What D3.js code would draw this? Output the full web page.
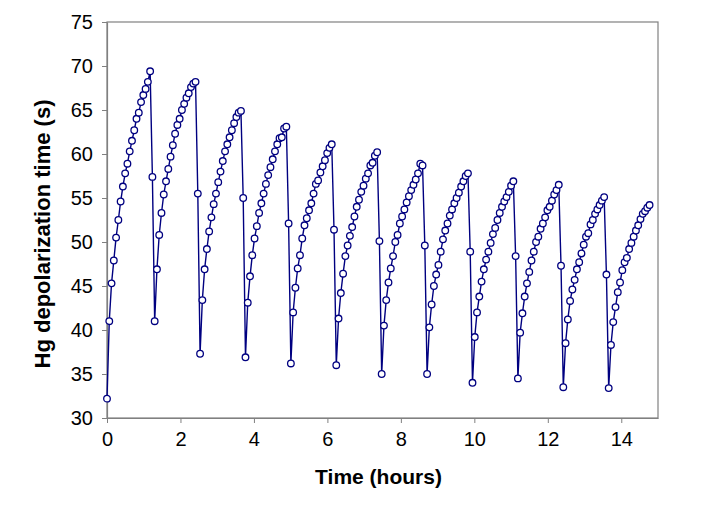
<!DOCTYPE html>
<html lang="en">
<head>
<meta charset="UTF-8">
<title>Hg depolarization time</title>
<script src="https://d3js.org/d3.v7.min.js"></script>
<style>
    body { margin: 0; background: white; font-family: "Liberation Sans", Arial, sans-serif; }
    .axis text { font-size: 20px; fill: black; font-family: "Liberation Sans", Arial, sans-serif; }
    .axis path, .axis line { stroke: #808080; }
    .title { font-weight: bold; fill: black; }
</style>
</head>
<body>
<div id="chart"></div>
<script>
    // sampling interval between measurements (hours)
    var sampleHours = 0.0618;

    // each run: drop point, minimum, then the climb up to the peak (first run starts at t=0)
    var run1  = [32.2, 41.0, 45.3, 47.9, 50.5, 52.5, 54.6, 56.3, 57.8, 58.9, 60.3, 61.5, 62.7, 64.0, 64.7, 65.9, 66.7, 67.4, 68.2, 69.4];
    var run2  = [57.4, 41.0, 46.9, 50.8, 53.3, 55.4, 56.9, 58.3, 59.7, 61.0, 62.3, 63.3, 64.0, 65.0, 65.7, 66.4, 66.9, 67.6, 68.0, 68.2];
    var run3  = [55.5, 37.3, 43.4, 46.9, 49.2, 51.2, 52.8, 54.3, 55.5, 56.8, 58.0, 59.2, 60.3, 61.1, 61.9, 62.7, 63.5, 64.2, 64.7, 64.9];
    var run4  = [55.0, 36.9, 43.1, 46.1, 48.5, 50.4, 51.8, 53.3, 54.4, 55.5, 56.6, 57.6, 58.5, 59.4, 60.3, 61.1, 61.8, 61.9, 62.9, 63.1];
    var run5  = [52.1, 36.2, 42.0, 44.8, 47.0, 48.5, 50.4, 51.9, 52.7, 53.6, 54.4, 55.5, 56.6, 57.0, 57.9, 58.6, 59.3, 60.1, 60.7, 61.1];
    var run6  = [51.4, 36.0, 41.3, 44.2, 46.4, 48.4, 49.6, 50.7, 51.7, 52.9, 54.0, 54.8, 55.7, 56.4, 57.2, 57.8, 58.7, 59.0, 59.8, 60.2];
    var run7  = [50.1, 35.0, 40.5, 43.4, 45.4, 47.0, 48.4, 50.0, 50.8, 52.1, 52.9, 53.7, 54.5, 55.2, 55.9, 56.5, 57.1, 57.8, 58.9, 58.7];
    var run8  = [49.6, 35.0, 40.3, 42.9, 45.0, 46.3, 47.4, 48.9, 50.3, 51.3, 52.1, 53.0, 53.7, 54.4, 55.0, 55.6, 56.3, 56.9, 57.5, 57.8];
    var run9  = [48.9, 34.0, 39.2, 42.0, 43.8, 45.5, 46.9, 48.0, 48.9, 49.9, 50.9, 51.6, 52.5, 53.3, 54.0, 54.6, 55.1, 55.7, 56.4, 56.9];
    var run10 = [48.4, 34.5, 39.7, 41.9, 43.8, 45.3, 46.6, 47.9, 48.9, 50.0, 50.6, 51.5, 52.1, 52.8, 53.6, 54.0, 54.7, 55.4, 55.9, 56.5];
    var run11 = [47.3, 33.5, 38.5, 41.2, 43.3, 44.6, 45.7, 46.9, 47.7, 48.7, 49.7, 50.6, 51.0, 52.0, 52.5, 53.2, 53.7, 54.2, 54.7, 55.1];
    var run12 = [46.3, 33.4, 38.3, 40.9, 42.6, 44.3, 45.4, 46.8, 47.7, 48.2, 49.2, 49.9, 50.6, 51.3, 51.9, 52.6, 53.2, 53.5, 53.9, 54.2];

    var runs = [run1, run2, run3, run4, run5, run6, run7, run8, run9, run10, run11, run12];

    var xTicks = [0, 2, 4, 6, 8, 10, 12, 14];
    var yTicks = [30, 35, 40, 45, 50, 55, 60, 65, 70, 75];

    var data = [];
    runs.forEach(function (r) {
        r.forEach(function (v) {
            data.push({ t: data.length * sampleHours, v: v });
        });
    });

    var width = 702, height = 505;
    var margin = { top: 22, right: 44, bottom: 87, left: 107 };
    var w = width - margin.left - margin.right;
    var h = height - margin.top - margin.bottom;

    var svg = d3.select("#chart").append("svg")
        .attr("width", width)
        .attr("height", height);

    var g = svg.append("g")
        .attr("transform", "translate(" + margin.left + "," + margin.top + ")");

    var x = d3.scaleLinear().domain([0, 15]).range([0, w]);
    var y = d3.scaleLinear().domain([30, 75]).range([h, 0]);

    // plot frame
    g.append("rect")
        .attr("width", w)
        .attr("height", h)
        .attr("fill", "none")
        .attr("stroke", "#808080")
        .attr("stroke-width", 1.2);

    var xAxis = g.append("g")
        .attr("class", "axis")
        .attr("transform", "translate(0," + h + ")")
        .call(d3.axisBottom(x).tickValues(xTicks).tickSize(5).tickPadding(9).tickSizeOuter(0));
    xAxis.select(".domain").attr("stroke-width", 1.2);

    var yAxis = g.append("g")
        .attr("class", "axis")
        .call(d3.axisLeft(y).tickValues(yTicks).tickSize(5).tickPadding(9).tickSizeOuter(0));
    yAxis.select(".domain").attr("stroke-width", 1.2);

    var line = d3.line()
        .x(function (d) { return x(d.t); })
        .y(function (d) { return y(d.v); });

    g.append("path")
        .datum(data)
        .attr("fill", "none")
        .attr("stroke", "#000080")
        .attr("stroke-width", 1.4)
        .attr("d", line);

    g.selectAll("circle")
        .data(data)
        .enter().append("circle")
        .attr("cx", function (d) { return x(d.t); })
        .attr("cy", function (d) { return y(d.v); })
        .attr("r", 3.3)
        .attr("fill", "white")
        .attr("stroke", "#000080")
        .attr("stroke-width", 1.3);

    svg.append("text")
        .attr("class", "title")
        .style("font-size", "21px")
        .attr("x", margin.left + x(7.5) - 4)
        .attr("y", 484)
        .attr("text-anchor", "middle")
        .text("Time (hours)");

    svg.append("text")
        .attr("class", "title")
        .style("font-size", "22px")
        .attr("transform", "translate(50," + (margin.top + h / 2 + 14) + ") rotate(-90)")
        .attr("text-anchor", "middle")
        .text("Hg depolarization time (s)");
</script>
</body>
</html>
